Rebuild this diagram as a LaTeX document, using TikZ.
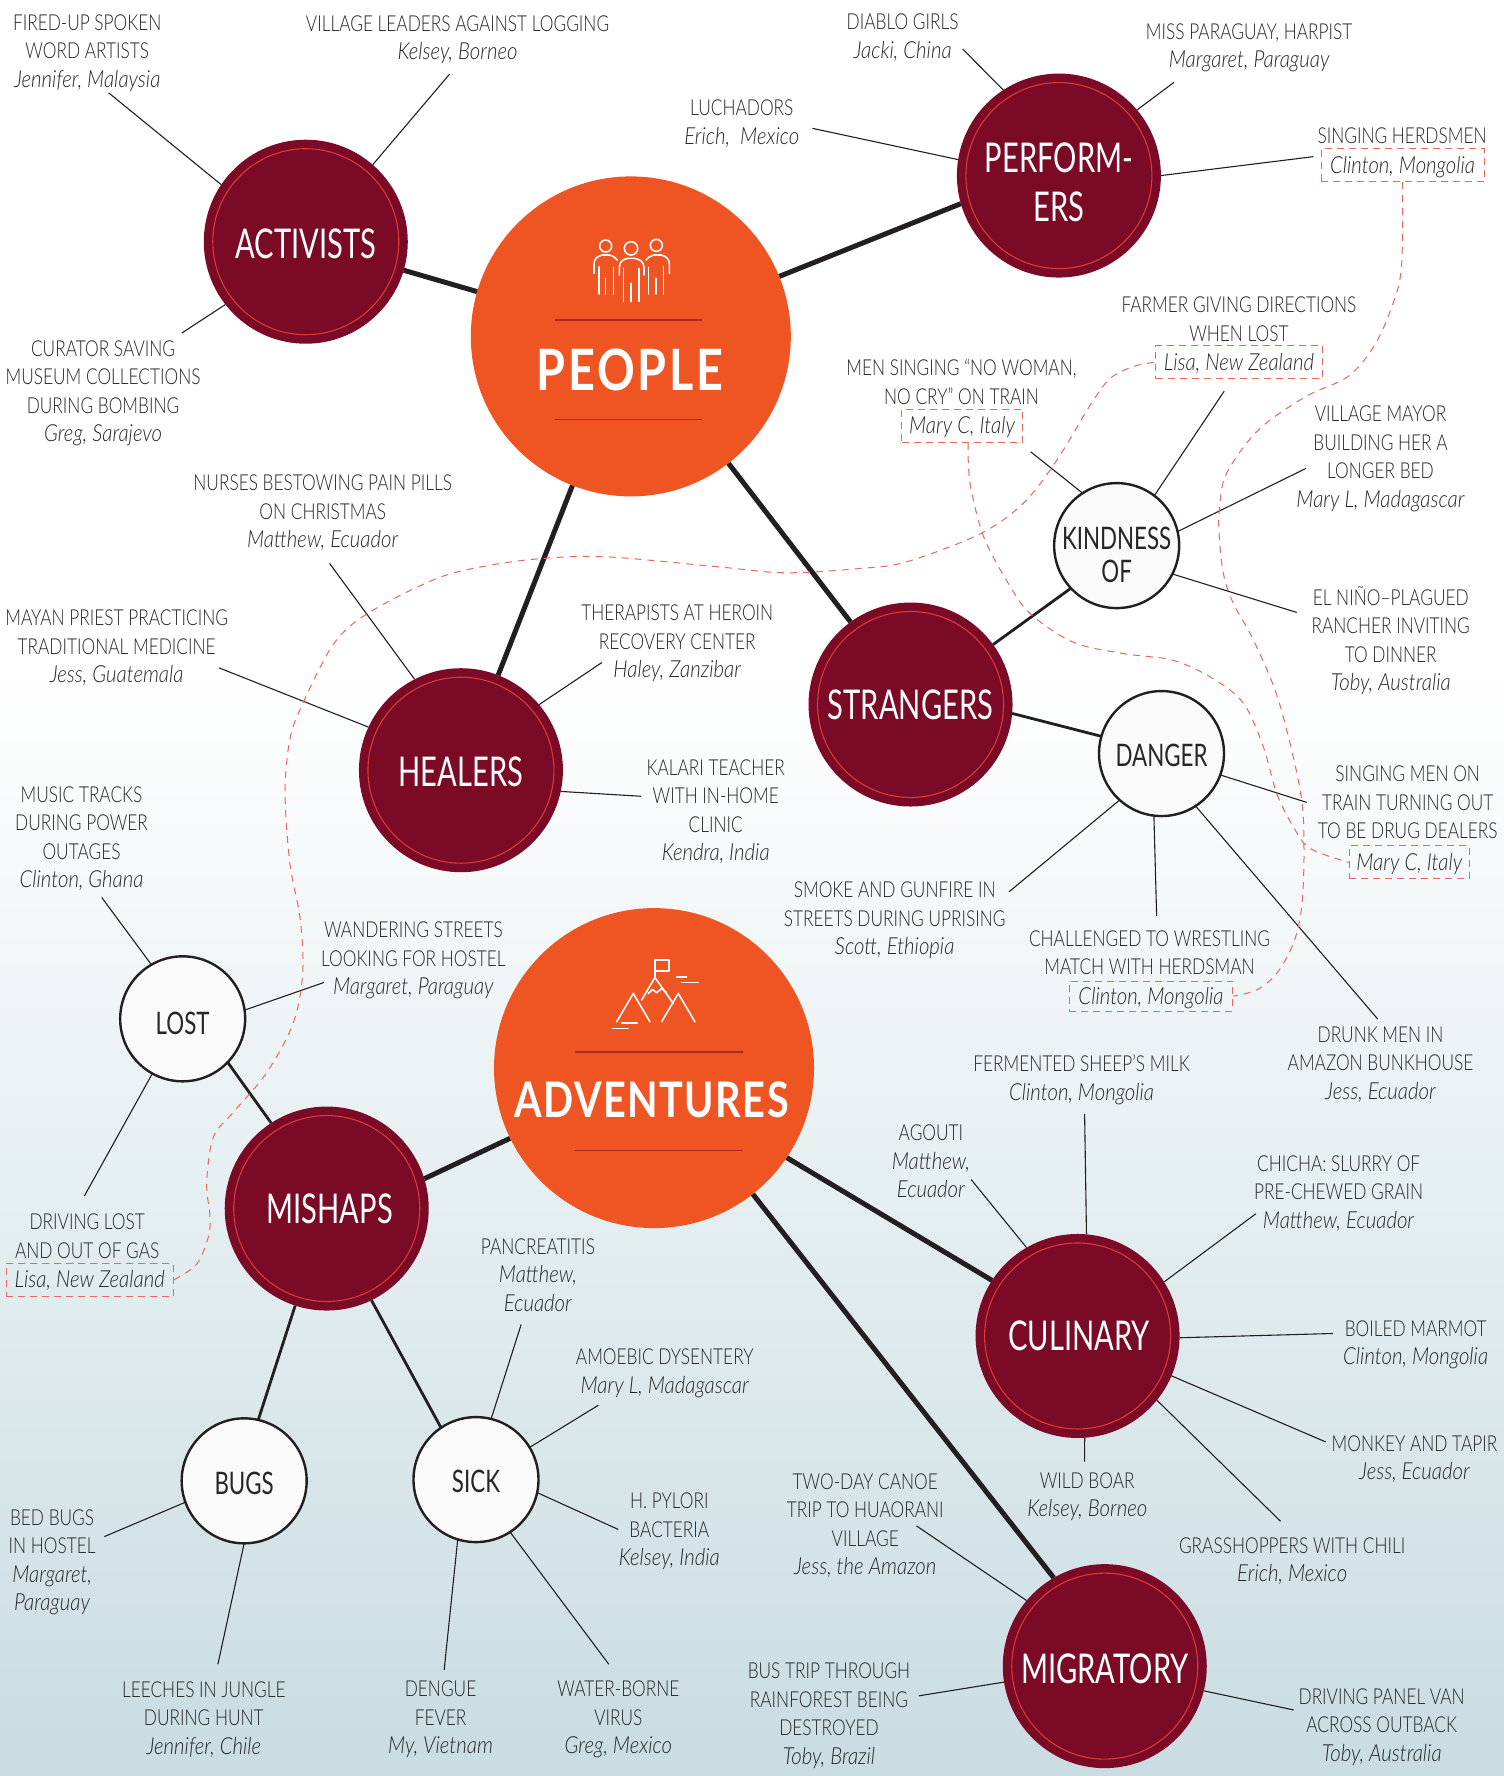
\documentclass[tikz,border=0pt]{standalone}
\usepackage{fontspec}
\setmainfont{Lato Light}[FakeStretch=0.785,ItalicFont={Lato Light Italic},ItalicFeatures={FakeStretch=0.865,Scale=1.07}]
\newfontfamily\circlight{Lato}[FakeStretch=0.71]
\newfontfamily\circreg{Lato}[FakeStretch=0.72]
\newfontfamily\peoplefont{Lato Bold}[FakeStretch=0.82,LetterSpace=5]
\newfontfamily\advfont{Lato Bold}[FakeStretch=0.81,LetterSpace=3]
\usetikzlibrary{shapes.geometric,calc}
\pgfdeclarelayer{bg}\pgfdeclarelayer{conn}\pgfsetlayers{bg,conn,main}
\definecolor{wine}{HTML}{7A0A26}
\definecolor{ringred}{HTML}{D83A36}
\definecolor{hot}{HTML}{EF5423}
\definecolor{rulered}{HTML}{A92A25}
\definecolor{ink}{HTML}{231F20}
\definecolor{txt}{HTML}{262626}
\definecolor{trailred}{HTML}{E9675F}
\definecolor{fog}{HTML}{C9DCE1}
\tikzset{
  hub/.style={circle,fill=hot,minimum size=320pt,inner sep=0pt,outer sep=0pt},
  darkc/.style={circle,fill=wine,minimum size=204pt,inner sep=0pt,outer sep=0pt,text=white,align=center,
    font=\circlight\fontsize{41}{49}\selectfont,
    path picture={\draw[ringred,line width=1.1pt] (path picture bounding box.center) circle (93pt);}},
  whitec/.style={circle,fill=white!98!black,draw=ink,line width=2.4pt,minimum size=125pt,inner sep=0pt,outer sep=0pt,
    text=txt,align=center,font=\circreg\fontsize{31}{33}\selectfont},
  lab/.style={text=txt,align=center,inner sep=0pt,yshift=-2pt,font=\fontsize{22}{28.5}\selectfont},
  capsonly/.style={yshift=2pt},
  lisabox/.style={text=txt,align=center,inner sep=0pt,font=\fontsize{22}{28.5}\selectfont\itshape,
    draw=trailred,dash pattern=on 7pt off 5pt,line width=1pt,minimum height=33pt,text height=16pt,text depth=0pt},
  heavy/.style={ink,line width=5pt},
  medium/.style={ink,line width=2.8pt},
  thinl/.style={ink,line width=1.1pt},
  redtrail/.style={trailred,line width=1pt,dash pattern=on 7pt off 6pt},
  iconl/.style={white,line width=1.6pt,line cap=round,line join=round},
  rulel/.style={rulered,line width=1.4pt},
}
\newcommand{\spoke}[3]{\coordinate (#1-end) at (#2); \draw[thinl] (#1-end) -- (#3);}
% lowers a node's text by half of #2 points: taller first line, same centre
\newcommand{\dn}[2][30]{\rule{0pt}{\dimexpr #1pt+#2pt\relax}}
\begin{document}
\begin{tikzpicture}[x=1.13253pt,y=-1.132653pt]
\useasboundingbox (0,0) rectangle (1328,1568);
\begin{pgfonlayer}{bg}
\fill[white] (0,0) rectangle (1328,1568);
\shade[top color=white,bottom color=fog] (0,590) rectangle (1328,1568);
\end{pgfonlayer}

% hubs
\node[hub] (people) at (557,297) {};
\node[hub] (adventures) at (577.5,943) {};
\draw[rulel] (490,282.6) -- (619.6,282.6);
\draw[rulel] (490,370.3) -- (619.6,370.3);
\draw[rulel] (507.7,928.9) -- (656.3,928.9);
\draw[rulel] (507.7,1016) -- (656.3,1016);
\node[text=white,inner sep=0pt,font=\peoplefont\fontsize{57}{60}\selectfont] (peopletitle) at (556.3,326.7) {PEOPLE};
\node[text=white,inner sep=0pt,font=\advfont\fontsize{49}{52}\selectfont] (adventuretitle) at (575.4,970.7) {ADVENTURES};

% people icon
\begin{scope}[shift={(406.2,141.3)},x=0.3333pt,y=-0.3333pt]
\draw[iconl] (513,265) circle (6.7pt);
\draw[iconl] (478,345) -- (478,322) .. controls (478,305) and (490,297) .. (503,295) -- (523,295) .. controls (538,297) and (552,305) .. (552,322) -- (552,345);
\draw[iconl] (490,325) -- (490,424);
\draw[iconl] (537,325) -- (537,424);
\draw[iconl] (513,370) -- (513,425);
\draw[iconl] (437,258) circle (6pt);
\draw[iconl] (402,340) -- (402,312) .. controls (402,297) and (412,288) .. (427,285) -- (447,285) .. controls (458,287) and (466,292) .. (472,300);
\draw[iconl] (417,320) -- (417,402);
\draw[iconl] (437,355) -- (437,402);
\draw[iconl] (460,322) -- (460,402);
\draw[iconl] (589,256) circle (6pt);
\draw[iconl] (628,340) -- (628,312) .. controls (628,297) and (618,288) .. (603,285) -- (581,285) .. controls (571,287) and (564,292) .. (558,300);
\draw[iconl] (565,322) -- (565,402);
\draw[iconl] (588,355) -- (588,402);
\draw[iconl] (610,320) -- (610,402);
\end{scope}
% mountain icon
\begin{scope}[shift={(423.8,794.7)},x=0.3333pt,y=-0.3333pt]
\draw[iconl] (525,232) -- (525,180) -- (568,180) -- (568,212) -- (525,212);
\draw[iconl] (485,300) -- (525,232) -- (580,310);
\draw[iconl] (505,280) -- (518,268) -- (530,278) -- (545,265) -- (560,278);
\draw[iconl] (410,365) -- (460,280) -- (510,365);
\draw[iconl] (545,365) -- (595,280) -- (645,365);
\draw[iconl] (590,230) -- (620,230);
\draw[iconl] (605,247) -- (655,247);
\draw[iconl] (425,368) -- (472,368);
\draw[iconl] (398,385) -- (445,385);
\end{scope}

% dark circles
\node[darkc] (activists) at (270,213.4) {\dn{4}ACTIVISTS};
\node[darkc] (performers) at (935,155) {\dn{14}PERFORM-\\ERS};
\node[darkc] (strangers) at (804,622) {STRANGERS};
\node[darkc] (healers) at (407,680) {\dn{2}HEALERS};
\node[darkc] (mishaps) at (288.5,1067) {\hspace{6pt}MISHAPS};
\node[darkc] (culinary) at (951.5,1179.5) {\hspace{3pt}CULINARY};
\node[darkc] (migratory) at (975.5,1471) {\dn{6}MIGRATORY};
% white circles
\node[whitec,inner sep=-14pt] (kindness) at (986,481.7) {\dn[23]{19}KINDNESS\\OF};
\node[whitec] (danger) at (1025.6,665.3) {\dn[23]{3}DANGER};
\node[whitec] (lost) at (161.3,899.5) {\dn[23]{9}LOST};
\node[whitec] (bugs) at (215.6,1307.4) {\dn[23]{5}BUGS};
\node[whitec] (sick) at (420.3,1306.3) {\dn[23]{4}SICK};

% labels
\node[lab] (fired) at (77,45) {FIRED-UP SPOKEN\\WORD ARTISTS\\\textit{Jennifer, Malaysia}};
\node[lab] (village) at (404,33.5) {VILLAGE LEADERS AGAINST LOGGING\\\textit{Kelsey, Borneo}};
\node[lab] (curator) at (91,345.5) {CURATOR SAVING\\MUSEUM COLLECTIONS\\DURING BOMBING\\\textit{Greg, Sarajevo}};
\node[lab] (diablo) at (797,31.5) {DIABLO GIRLS\\\textit{Jacki, China}};
\node[lab] (miss) at (1103,40.5) {MISS PARAGUAY, HARPIST\\\textit{Margaret, Paraguay}};
\node[lab] (luchadors) at (655,107.5) {LUCHADORS\\\textit{Erich,\ \ Mexico}};
\node[lab,capsonly] (herdsmen) at (1238,120) {SINGING HERDSMEN};
\node[lisabox,minimum width=163pt] (herdbox) at (1238.4,145.7) {Clinton, Mongolia};
\node[lab,capsonly] (farmer) at (1094,282) {FARMER GIVING DIRECTIONS\\WHEN LOST};
\node[lisabox,minimum width=166.6pt] (lisatop) at (1094,319.8) {Lisa, New Zealand};
\node[lab,capsonly] (noWoman) at (849,337) {MEN SINGING ``NO WOMAN,\\NO CRY'' ON TRAIN};
\node[lisabox,minimum width=121pt] (marytop) at (849.5,376) {Mary C, Italy};
\node[lab] (mayor) at (1219,403.5) {VILLAGE MAYOR\\BUILDING HER A\\LONGER BED\\\textit{Mary L, Madagascar}};
\node[lab] (elnino) at (1228,564) {EL NI\~NO--PLAGUED\\RANCHER INVITING\\TO DINNER\\\textit{Toby, Australia}};
\node[lab,capsonly] (singingmen) at (1243,708.5) {SINGING MEN ON\\TRAIN TURNING OUT\\TO BE DRUG DEALERS};
\node[lisabox,minimum width=120pt] (marybot) at (1244.4,761.4) {Mary C, Italy};
\node[lab] (smoke) at (790,811) {SMOKE AND GUNFIRE IN\\STREETS DURING UPRISING\\\textit{Scott, Ethiopia}};
\node[lab,capsonly] (challenged) at (1015,841) {CHALLENGED TO WRESTLING\\MATCH WITH HERDSMAN};
\node[lisabox,minimum width=163.3pt,minimum height=30pt] (clintonbot) at (1016.3,879.5) {Clinton, Mongolia};
\node[lab] (drunk) at (1219,938) {DRUNK MEN IN\\AMAZON BUNKHOUSE\\\textit{Jess, Ecuador}};
\node[lab] (nurses) at (285,451) {NURSES BESTOWING PAIN PILLS\\ON CHRISTMAS\\\textit{Matthew, Ecuador}};
\node[lab] (mayan) at (103,570) {MAYAN PRIEST PRACTICING\\TRADITIONAL MEDICINE\\\textit{Jess, Guatemala}};
\node[lab] (therapists) at (598,566.5) {THERAPISTS AT HEROIN\\RECOVERY CENTER\\\textit{Haley, Zanzibar}};
\node[lab] (kalari) at (632,715) {KALARI TEACHER\\WITH IN-HOME\\CLINIC\\\textit{Kendra, India}};
\node[lab] (music) at (72,738.5) {MUSIC TRACKS\\DURING POWER\\OUTAGES\\\textit{Clinton, Ghana}};
\node[lab] (wandering) at (365,846.5) {WANDERING STREETS\\LOOKING FOR HOSTEL\\\textit{Margaret, Paraguay}};
\node[lab,capsonly] (drivinglost) at (77,1091.5) {DRIVING LOST\\AND OUT OF GAS};
\node[lisabox,minimum width=167.2pt] (lisabot) at (79.2,1130) {Lisa, New Zealand};
\node[lab] (pancreatitis) at (475,1124) {PANCREATITIS\\\textit{Matthew,}\\\textit{Ecuador}};
\node[lab] (amoebic) at (587,1210.5) {AMOEBIC DYSENTERY\\\textit{Mary L, Madagascar}};
\node[lab] (pylori) at (591,1350.5) {H. PYLORI\\BACTERIA\\\textit{Kelsey, India}};
\node[lab] (bedbugs) at (46,1377.5) {BED BUGS\\IN HOSTEL\\\textit{Margaret,}\\\textit{Paraguay}};
\node[lab] (leeches) at (180,1516) {LEECHES IN JUNGLE\\DURING HUNT\\\textit{Jennifer, Chile}};
\node[lab] (dengue) at (389,1516.5) {DENGUE\\FEVER\\\textit{My, Vietnam}};
\node[lab] (water) at (546,1516.5) {WATER-BORNE\\VIRUS\\\textit{Greg, Mexico}};
\node[lab] (fermented) at (955,951.5) {FERMENTED SHEEP'S MILK\\\textit{Clinton, Mongolia}};
\node[lab] (agouti) at (822,1023.5) {AGOUTI\\\textit{Matthew,}\\\textit{Ecuador}};
\node[lab] (chicha) at (1182,1052) {CHICHA: SLURRY OF\\PRE-CHEWED GRAIN\\\textit{Matthew, Ecuador}};
\node[lab] (boiled) at (1250,1185.5) {BOILED MARMOT\\\textit{Clinton, Mongolia}};
\node[lab] (monkey) at (1249,1286.5) {MONKEY AND TAPIR\\\textit{Jess, Ecuador}};
\node[lab] (boar) at (960,1319.5) {WILD BOAR\\\textit{Kelsey, Borneo}};
\node[lab] (grass) at (1141,1376.5) {GRASSHOPPERS WITH CHILI\\\textit{Erich, Mexico}};
\node[lab] (canoe) at (764,1345) {TWO-DAY CANOE\\TRIP TO HUAORANI\\VILLAGE\\\textit{Jess, the Amazon}};
\node[lab] (bus) at (732,1513) {BUS TRIP THROUGH\\RAINFOREST BEING\\DESTROYED\\\textit{Toby, Brazil}};
\node[lab] (panelvan) at (1220,1523) {DRIVING PANEL VAN\\ACROSS OUTBACK\\\textit{Toby, Australia}};

\begin{pgfonlayer}{conn}
% heavy links
\draw[heavy] (people) -- (activists);
\draw[heavy] (people.22.8) -- (performers.196);
\draw[heavy] (people) -- (healers);
\draw[heavy] (people) -- (strangers.126);
\draw[heavy] (adventures.206.4) -- (mishaps.17.3);
\draw[heavy] (adventures.326) -- (culinary.147.4);
\draw[heavy] (adventures) -- (migratory.120);
% medium links
\draw[medium] (strangers.36) -- (kindness.223);
\draw[medium] (strangers.355) -- (danger.164.6);
\draw[medium] (mishaps.123) -- (lost.316);
\draw[medium] (mishaps.252) -- (bugs.77);
\draw[medium] (mishaps.296.6) -- (sick.124);
% thin spokes
\spoke{fired}{96,82}{activists.146}
\spoke{village}{397,65.4}{activists.49}
\spoke{curator}{160.6,294}{activists.218}
\spoke{diablo}{850,43.3}{performers.123}
\spoke{miss}{1036.6,72.7}{performers.40}
\spoke{luchadors}{717.3,113.3}{performers.171}
\spoke{herdsmen}{1159.6,138.3}{performers.0}
\spoke{farmer}{1081,345.3}{kindness.53}
\spoke{noWoman}{910,398.8}{kindness.123.6}
\spoke{mayor}{1153.2,413.5}{kindness.13}
\spoke{elnino}{1145,540.7}{kindness.333}
\spoke{singingmen}{1153.8,708.4}{danger.340}
\spoke{challenged}{1021.3,808.5}{danger.263}
\spoke{drunk}{1216.5,899.7}{danger.303}
\spoke{smoke}{891,787.3}{danger.228}
\spoke{nurses}{291,497.4}{healers.117.4}
\spoke{mayan}{193.3,589.6}{healers.155.6}
\spoke{therapists}{531.5,584.9}{healers.40.5}
\spoke{kalari}{565.8,703}{healers.348}
\spoke{music}{89.8,792.3}{lost.120}
\spoke{wandering}{286,867.4}{lost.8.4}
\spoke{drivinglost}{74.5,1055.9}{lost.241.6}
\spoke{bedbugs}{92.2,1356.6}{bugs.200.7}
\spoke{leeches}{192.4,1469.3}{bugs.270}
\spoke{pancreatitis}{460.2,1169.3}{sick.76}
\spoke{amoebic}{528.3,1240.7}{sick.31}
\spoke{pylori}{545.9,1350.3}{sick.348.7}
\spoke{dengue}{392.2,1474.3}{sick.253}
\spoke{water}{537.5,1469.3}{sick.303.4}
\spoke{fermented}{957.7,983.4}{culinary.85.7}
\spoke{agouti}{857.5,1041.4}{culinary.120.5}
\spoke{chicha}{1108.9,1071.6}{culinary.32.8}
\spoke{boiled}{1177.2,1177.3}{culinary.359}
\spoke{monkey}{1170.5,1273}{culinary.337}
\spoke{grass}{1130.7,1343.1}{culinary.321}
\spoke{boar}{957.7,1290.5}{culinary.274}
\spoke{canoe}{809.3,1347.2}{migratory.140}
\spoke{bus}{811.4,1497.2}{migratory.189}
\spoke{panelvan}{1142.4,1509.7}{migratory.346.5}
% red dashed trails
\draw[redtrail] plot[smooth,tension=0.55] coordinates {(lisabot.east) (173.7,1116) (184,1092) (185.4,1074) (182.5,1043.6) (188.4,1004) (206,982) (235.5,947) (259,903) (267.3,859) (265,810.7) (256,762.4) (251.7,700) (256,652.5) (267.4,621) (294.3,569) (324.6,541.6) (385.7,510.7) (433,499) (480,493) (535.5,491.6) (634,500.4) (693,505.7) (759.4,501.9) (800.6,496) (865.3,471.4) (903.6,444.3) (933,406.5) (962.5,357.9) (980,334.4) (1000.7,323.6) (lisatop.west)};
\draw[redtrail] plot[smooth,tension=0.55] coordinates {(herdbox.south) (1237.5,235.5) (1229,270.8) (1213,306) (1190,332.6) (1152.6,350.3) (1111,379.7) (1083,418) (1077,447.4) (1076.4,471) (1080.2,506.3) (1089,532.7) (1106.7,565) (1128.8,618) (1148,697.5) (1151.4,747.6) (1149.4,800.5) (1142,833) (1127.3,859.4) (1109.6,874) (clintonbot.east)};
\draw[redtrail] plot[smooth,tension=0.55] coordinates {([xshift=6pt]marytop.south) (856.5,426.3) (868.3,473.2) (889,512.8) (909.5,541.6) (947.7,567) (991.9,577) (1036,583) (1071.4,599.3) (1098,621) (1115.5,659.3) (1127.3,700.5) (1142,730) (1156.7,749) (marybot.west)};
\end{pgfonlayer}
\end{tikzpicture}
\end{document}
